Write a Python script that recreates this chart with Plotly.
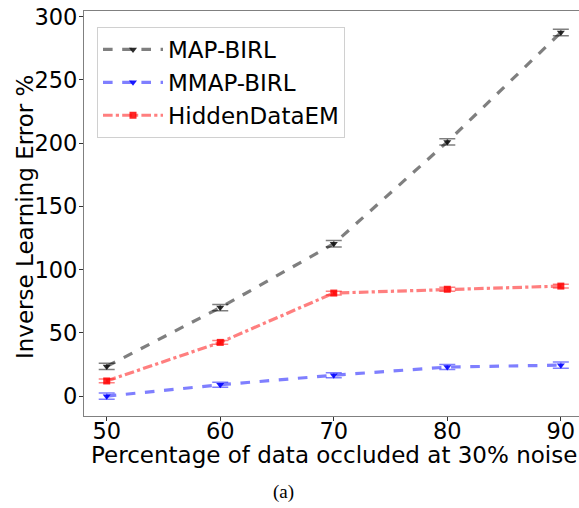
import plotly.graph_objects as go

x_vals = [50, 60, 70, 80, 90]
map_birl = [23.5, 70, 120.5, 201, 287.5]
map_err = [2.5, 2.5, 2.5, 2.5, 2.5]
mmap_birl = [0, 9, 16.5, 23, 24.5]
mmap_err = [2.5, 2.0, 2.0, 2.0, 2.5]
hidden_em = [12, 42.5, 81.5, 84.5, 87]
hidden_err = [1.5, 1.5, 1.5, 1.5, 1.5]
y_ticks = [0, 50, 100, 150, 200, 250, 300]
x_ticks = [50, 60, 70, 80, 90]

FONT = "DejaVu Sans"
FS = 23

# plot area in page pixels
L, R_EDGE, T, B = 84, 579, 11, 416
PW, PH = R_EDGE - L, B - T

fig = go.Figure()

series = [
    ("MAP-BIRL", map_birl, map_err, "rgba(0,0,0,0.5)", "rgba(20,20,20,0.9)", "dash", "triangle-down"),
    ("MMAP-BIRL", mmap_birl, mmap_err, "rgba(0,0,255,0.5)", "rgba(0,0,255,0.9)", "dash", "triangle-down"),
    ("HiddenDataEM", hidden_em, hidden_err, "rgba(255,0,0,0.5)", "rgba(255,0,0,0.85)", "dashdot", "square"),
]

for name, ys, err, lc, mc, dash, sym in series:
    fig.add_trace(go.Scatter(
        x=x_vals, y=ys, name=name, mode="lines+markers",
        line=dict(color=lc, width=3.2, dash=dash),
        marker=dict(color=mc, symbol=sym, size=7, line=dict(width=0)),
        error_y=dict(type="data", array=err, visible=True, color=lc, thickness=1.5, width=8),
        cliponaxis=False,
    ))

fig.update_layout(
    width=579, height=508,
    margin=dict(l=L, r=579 - R_EDGE, t=T, b=508 - B, autoexpand=False),
    paper_bgcolor="white", plot_bgcolor="white",
    font=dict(family=FONT, size=FS, color="black"),
    showlegend=True,
    legend=dict(
        x=(97 - L) / PW, y=1 - (27 - T) / PH, xanchor="left", yanchor="top",
        bgcolor="rgba(255,255,255,0.8)", bordercolor="#d0d0d0", borderwidth=1,
        font=dict(family=FONT, size=FS), itemwidth=60, tracegroupgap=0,
    ),
    xaxis=dict(
        range=[48, 91.6], tickvals=x_ticks, ticktext=[str(v) for v in x_ticks],
        showline=True, linecolor="#808080", linewidth=1.2, mirror=True,
        ticks="outside", ticklen=4, tickcolor="#333", showgrid=False, zeroline=False,
        tickfont=dict(family=FONT, size=22.5), automargin=False,
        ticklabeloverflow="allow", ticklabelstandoff=-9,
    ),
    yaxis=dict(
        range=[-15.7, 304.5], tickvals=y_ticks, ticktext=[str(v) for v in y_ticks],
        showline=True, linecolor="#808080", linewidth=1.2, mirror=False,
        ticks="outside", ticklen=4, tickcolor="#333", showgrid=False, zeroline=False,
        tickfont=dict(family=FONT, size=22.5), automargin=False,
        ticklabeloverflow="allow", ticklabelstandoff=-3,
    ),
)

fig.add_annotation(
    text="Percentage of data occluded at 30% noise", xref="paper", yref="paper",
    x=(334 - L) / PW, y=-(455 - B) / PH, showarrow=False,
    font=dict(family=FONT, size=FS, color="black"), xanchor="center", yanchor="middle",
)
fig.add_annotation(
    text="Inverse Learning Error %", xref="paper", yref="paper",
    x=(25 - L) / PW, y=1 - (217 - T) / PH, showarrow=False, textangle=-90,
    font=dict(family=FONT, size=FS, color="black"), xanchor="center", yanchor="middle",
)
fig.add_annotation(
    text="(a)", xref="paper", yref="paper", x=(283 - L) / PW, y=-(492 - B) / PH,
    showarrow=False, font=dict(family="Liberation Serif", size=19, color="black"),
    xanchor="center", yanchor="middle",
)

fig.write_html(
    "out.html",
    config={"displayModeBar": False},
    post_script="document.body.style.margin='0';document.body.style.overflow='hidden';",
)
